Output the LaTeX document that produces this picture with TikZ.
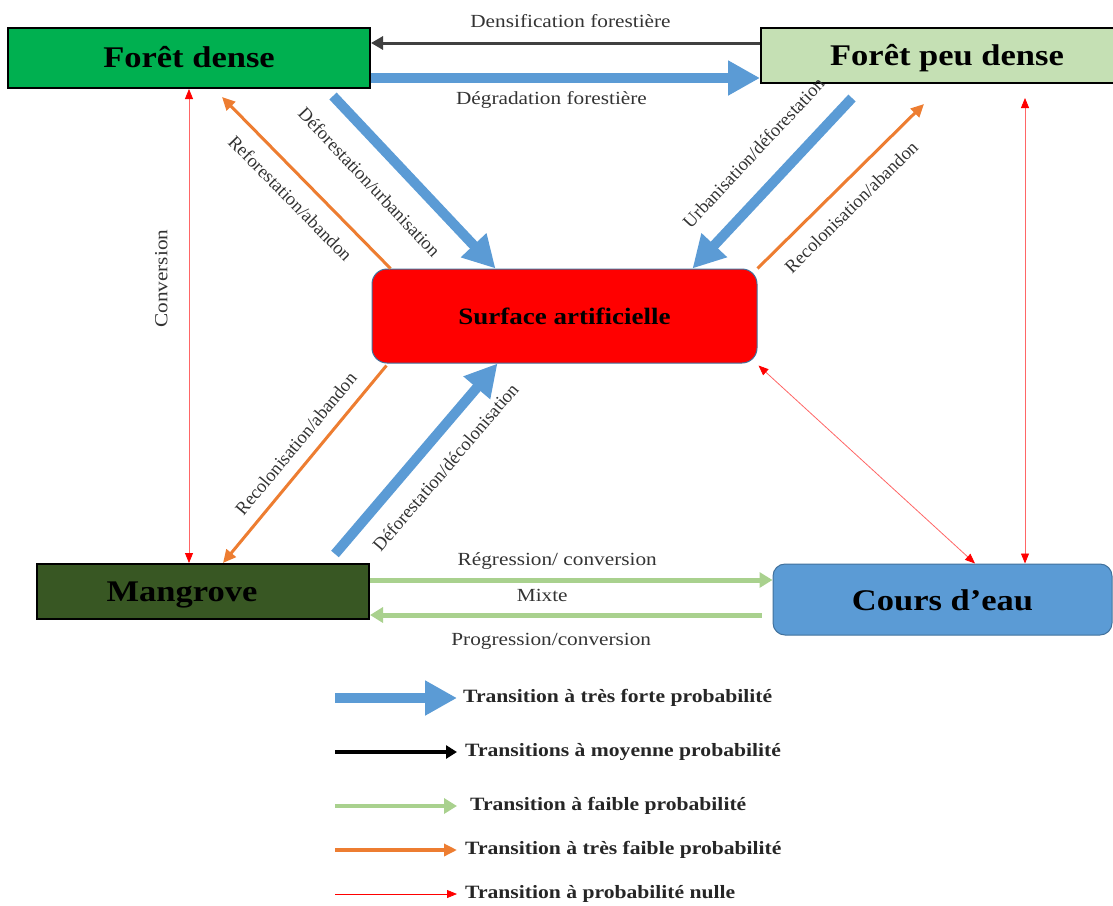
\documentclass[tikz,border=0pt]{standalone}
\usepackage{fontspec}
\setmainfont[FakeStretch=1.15]{Liberation Serif}
\newfontfamily\plainserif{Liberation Serif}
\usepackage{xcolor}
\usepackage{tikz}
\usetikzlibrary{arrows.meta, positioning}
\definecolor{densegreen}{HTML}{00B050}
\definecolor{sparsegreen}{HTML}{C5E0B4}
\definecolor{mangrovegreen}{HTML}{385723}
\definecolor{waterblue}{HTML}{5B9BD5}
\definecolor{edgeblue}{HTML}{41719C}
\definecolor{arrowblue}{HTML}{5B9BD5}
\definecolor{arroworange}{HTML}{ED7D31}
\definecolor{arrowgreen}{HTML}{A9D18E}
\definecolor{arrowgray}{HTML}{404040}
\tikzstyle{landbox} = [rectangle, draw=black, line width=2pt, text centered, inner sep=0pt, text height=21pt, text depth=2pt, font=\bfseries\fontsize{30}{34}\selectfont]
\tikzstyle{roundbox} = [rectangle, draw=edgeblue, line width=1pt, text centered, inner sep=0pt]
\tikzstyle{veryhigh} = [line width=10pt, draw=arrowblue, -{Triangle[width=33pt,length=32pt,color=arrowblue]}]
\tikzstyle{mediumprob} = [line width=3pt, draw=arrowgray, -{Triangle[width=13pt,length=12pt,color=arrowgray]}]
\tikzstyle{lowprob} = [line width=5pt, draw=arrowgreen, -{Triangle[width=15pt,length=13pt,color=arrowgreen]}]
\tikzstyle{verylowprob} = [line width=3pt, draw=arroworange, -{Triangle[width=12pt,length=13pt,color=arroworange]}]
\tikzstyle{nullprob} = [line width=0.8pt, draw=red!60, {Triangle[width=8pt,length=10pt,color=red]}-{Triangle[width=8pt,length=10pt,color=red]}]
\tikzstyle{trlabel} = [font=\fontsize{18.5}{20}\selectfont, text=black!80, inner sep=2pt]
\tikzstyle{slopelabel} = [trlabel, sloped, font=\plainserif\fontsize{18.5}{20}\selectfont]
\tikzstyle{legendtext} = [anchor=west, inner sep=0pt, font=\bfseries\fontsize{18.8}{20}\selectfont, text=black!85]

\begin{document}
\begin{tikzpicture}[x=1pt, y=-1pt]
\useasboundingbox (0,0) rectangle (1113,905);

% Land cover classes
\node (fd) [landbox, fill=densegreen, minimum width=362pt, minimum height=60pt] at (189,58) {Forêt dense};
\node (fp) [landbox, fill=sparsegreen, minimum width=372pt, minimum height=55pt] at (947,55.5) {Forêt peu dense};
\node (sa) [roundbox, fill=red, rounded corners=15pt, minimum width=385pt, minimum height=94pt, font=\bfseries\fontsize{23.5}{26}\selectfont] at (564.5,316) {Surface artificielle};
\node (mg) [landbox, fill=mangrovegreen, minimum width=332pt, minimum height=55pt] at (203,591.5) {Mangrove\hspace*{42pt}};
\node (ce) [roundbox, fill=waterblue, rounded corners=12pt, minimum width=339pt, minimum height=71pt, text height=21pt, text depth=0pt, font=\bfseries\fontsize{30}{34}\selectfont] at (942.5,599.5) {Cours d’eau};

% Transitions between the two forests
\draw [mediumprob] ([yshift=12.5pt]fp.west) -- node[trlabel, above=12pt, xshift=5pt] {Densification forestière} ([yshift=15pt]fd.east);
\draw [veryhigh] ([yshift=-20pt]fd.east) -- node[trlabel, below=6pt, xshift=-14pt] {Dégradation forestière} ([yshift=-22.5pt]fp.west);

% Transitions with the artificial surface
\draw [veryhigh] ([xshift=-38pt,yshift=-7pt]fd.south east) -- node[slopelabel, pos=0.37, below=19pt] {Déforestation/urbanisation} ([xshift=124pt]sa.north west);
\draw [verylowprob] ([xshift=19pt]sa.north west) -- node[slopelabel, pos=0.5, below=12pt] {Reforestation/abandon} ([xshift=33pt,yshift=-8pt]fd.south);
\draw [veryhigh] ([xshift=92pt,yshift=-14pt]fp.south west) -- node[slopelabel, pos=0.46, above=21pt] {Urbanisation/déforestation} ([xshift=-65pt]sa.north east);
\draw [verylowprob] (sa.north east) -- node[slopelabel, pos=0.47, below=12pt] {Recolonisation/abandon} ([xshift=164pt,yshift=-20pt]fp.south west);
\draw [verylowprob] ([xshift=15pt,yshift=-2pt]sa.south west) -- node[slopelabel, pos=0.46, above=10pt] {Recolonisation/abandon} ([xshift=20pt]mg.north);
\draw [veryhigh] ([xshift=-35pt,yshift=9pt]mg.north east) -- node[slopelabel, pos=0.55, below=14pt] {Déforestation/décolonisation} ([xshift=126pt]sa.south west);

% Null probability transitions
\draw [nullprob] ([xshift=-14pt]mg.north) -- node[trlabel, sloped, pos=0.6, above=19pt] {Conversion} (fd.south);
\draw [nullprob] ([xshift=78pt,yshift=-14pt]fp.south) -- ([xshift=82.5pt]ce.north);
\draw [nullprob] ([xshift=1pt,yshift=-2pt]sa.south east) -- ([xshift=32.5pt]ce.north);

% Mangrove and water
\draw [lowprob] ([yshift=11.5pt]mg.east) -- node[trlabel, above=6pt, xshift=-14pt] {Régression/ conversion} ([yshift=19.5pt]ce.west);
\draw [lowprob] ([xshift=-11pt,yshift=-15.5pt]ce.west) -- node[trlabel, pos=0.56, above=8.5pt] {Mixte} node[trlabel, pos=0.537, below=14pt] {Progression/conversion} ([yshift=-23.5pt]mg.east);

% Legend
\node (lg1) [legendtext] at (463,698) {Transition à très forte probabilité};
\node (lg2) [legendtext] at (465,752) {Transitions à moyenne probabilité};
\node (lg3) [legendtext] at (470,806) {Transition à faible probabilité};
\node (lg4) [legendtext] at (465,850) {Transition à très faible probabilité};
\node (lg5) [legendtext] at (465,894) {Transition à probabilité nulle};
\coordinate (s1) at (335,698);
\coordinate (s2) at (335,752);
\coordinate (s3) at (335,806);
\coordinate (s4) at (335,850);
\coordinate (s5) at (335,894);
\draw [veryhigh] (s1) -- ([xshift=-6pt]lg1.west);
\draw [mediumprob, draw=black, -{Triangle[width=13pt,length=11pt,color=black]}, line width=4pt] (s2) -- ([xshift=-8pt]lg2.west);
\draw [lowprob, line width=4pt] (s3) -- ([xshift=-13pt]lg3.west);
\draw [verylowprob, line width=4pt] (s4) -- ([xshift=-8pt]lg4.west);
\draw [nullprob, -{Triangle[width=8pt,length=10pt,color=red]}, draw=red] (s5) -- ([xshift=-8pt]lg5.west);

\end{tikzpicture}
\end{document}
